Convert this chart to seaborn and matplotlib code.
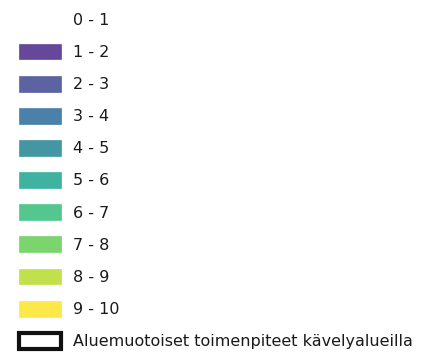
import matplotlib
matplotlib.use("Agg")
import matplotlib.pyplot as plt
import seaborn as sns
from matplotlib.patches import Patch

# legend classes and their fill colours
classes = ["0 - 1", "1 - 2", "2 - 3", "3 - 4", "4 - 5", "5 - 6",
           "6 - 7", "7 - 8", "8 - 9", "9 - 10"]
class_colors = ["none", "#65489a", "#5c63a3", "#4b80a8", "#4496a3", "#3fb2a0",
                "#54c78f", "#7cd46f", "#c1e04b", "#fde84a"]
area_label = "Aluemuotoiset toimenpiteet kävelyalueilla"

sns.set_style("white")
plt.rcParams["font.family"] = ["DejaVu Sans"]

fig = plt.figure(figsize=(4.26, 3.56), dpi=100)
fig.patch.set_facecolor("white")

handles = []
for lab, col in zip(classes, class_colors):
    if col == "none":
        handles.append(Patch(facecolor="none", edgecolor="none", label=lab))
    else:
        handles.append(Patch(facecolor=col, edgecolor=col, linewidth=0.5, label=lab))
handles.append(Patch(facecolor="white", edgecolor="#111111", linewidth=3,
                     joinstyle="round", label=area_label))

leg = fig.legend(handles=handles, loc="upper left", bbox_to_anchor=(0.045, 0.968),
                 frameon=False, fontsize=11.5, handlelength=2.6, handleheight=1.15,
                 handletextpad=0.75, labelspacing=0.99, borderaxespad=0, borderpad=0)
for t in leg.get_texts():
    t.set_color("#1a1a1a")

fig.savefig("out.png", dpi=100, facecolor="white")
